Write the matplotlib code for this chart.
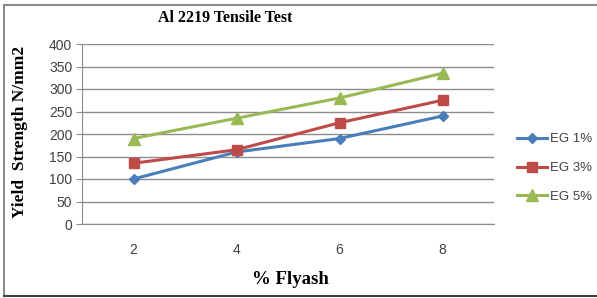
import matplotlib.pyplot as plt
from matplotlib.lines import Line2D

flyash = ["2", "4", "6", "8"]
eg1 = [100, 160, 190, 240]
eg3 = [135, 165, 225, 275]
eg5 = [190, 235, 280, 335]

series = [
    ("EG 1%", eg1, "#4a7ebb", "D", 5.5),
    ("EG 3%", eg3, "#be4b48", "s", 7.5),
    ("EG 5%", eg5, "#98b954", "^", 8),
]

serif = "Liberation Serif"
sans = "Liberation Sans"

fig = plt.figure(figsize=(5.97, 2.98), dpi=100)
ax = fig.add_axes([82 / 597, 1 - 224 / 298, 412 / 597, 180 / 298])

x = range(len(flyash))
for label, vals, color, marker, ms in series:
    ax.plot(x, vals, color=color, lw=2.2, marker=marker, ms=ms, label=label)

ax.set_xlim(-0.5, len(flyash) - 0.5)
ax.set_ylim(0, 400)
ax.set_yticks(range(0, 401, 50))
ax.set_xticks(list(x))
ax.set_xticklabels(flyash)
ax.yaxis.grid(True, color="#8c8c8c", lw=1)
ax.set_axisbelow(True)
for s in ["top", "right"]:
    ax.spines[s].set_visible(False)
for s in ["left", "bottom"]:
    ax.spines[s].set_color("#8c8c8c")
ax.tick_params(axis="y", length=4, color="#8c8c8c", labelsize=10, labelcolor="#404040", pad=3)
ax.tick_params(axis="x", length=0, labelsize=10, labelcolor="#404040", pad=14)
for t in ax.get_xticklabels() + ax.get_yticklabels():
    t.set_fontfamily(sans)

fig.text(225 / 597, 1 - 18 / 298, "Al 2219 Tensile Test", ha="center", va="center",
         fontfamily=serif, fontweight="bold", fontsize=11.5)
fig.text(20 / 597, 1 - 132 / 298, "Yield  Strength N/mm2", ha="center", va="center",
         rotation=90, fontfamily=serif, fontweight="bold", fontsize=12.5)
fig.text(290 / 597, 1 - 279 / 298, "% Flyash", ha="center", va="center",
         fontfamily=serif, fontweight="bold", fontsize=13.5)

leg = ax.legend(loc="center left", bbox_to_anchor=(517 / 597, 1 - 168 / 298),
                bbox_transform=fig.transFigure, frameon=False, handlelength=2.3,
                labelspacing=1.25, borderpad=0, borderaxespad=0,
                prop={"family": sans, "size": 9.5}, handletextpad=0.2)
for t in leg.get_texts():
    t.set_color("#404040")

# outer chart border
fig.add_artist(Line2D([4 / 597, 1], [1 - 5 / 298] * 2, color="#8c8c8c", lw=1.5,
                      transform=fig.transFigure))
fig.add_artist(Line2D([4 / 597] * 2, [1 - 5 / 298, 1 - 296 / 298], color="#8c8c8c", lw=1.5,
                      transform=fig.transFigure))
fig.add_artist(Line2D([4 / 597, 1], [1 - 296 / 298] * 2, color="#404040", lw=1.5,
                      transform=fig.transFigure))

fig.savefig("out.png", dpi=100)
